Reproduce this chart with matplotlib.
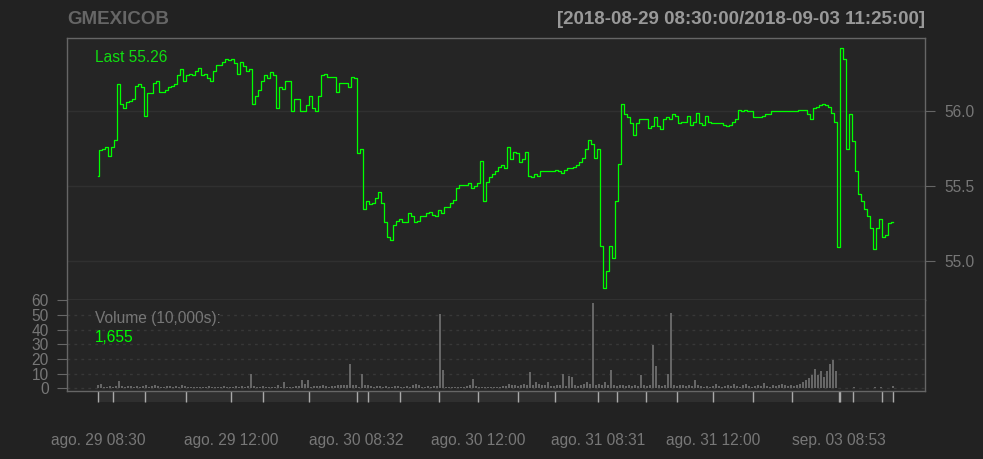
import matplotlib
matplotlib.use("Agg")
import matplotlib.pyplot as plt
from matplotlib.patches import Rectangle
from matplotlib.transforms import blended_transform_factory

plt.rcParams["font.family"] = ["Liberation Sans", "DejaVu Sans"]

symbol = "GMEXICOB"
period = "[2018-08-29 08:30:00/2018-09-03 11:25:00]"

# close prices, one reading per observation step
close = [
    55.57, 55.74, 55.75, 55.76, 55.70, 55.76, 55.81, 56.18, 56.05, 56.02,
    56.06, 56.07, 56.08, 56.17, 56.18, 56.16, 55.97, 56.12, 56.12, 56.19,
    56.20, 56.13, 56.13, 56.14, 56.16, 56.17, 56.18, 56.24, 56.28, 56.20,
    56.24, 56.25, 56.24, 56.27, 56.29, 56.24, 56.25, 56.22, 56.20, 56.27,
    56.31, 56.31, 56.33, 56.35, 56.34, 56.35, 56.32, 56.25, 56.33, 56.30,
    56.27, 56.28, 56.05, 56.10, 56.14, 56.20, 56.24, 56.22, 56.26, 56.24,
    56.02, 56.16, 56.15, 56.20, 56.20, 56.00, 56.08, 56.08, 56.00, 56.00,
    56.04, 56.10, 56.02, 56.00, 56.10, 56.24, 56.25, 56.23, 56.23, 56.23,
    56.13, 56.19, 56.19, 56.19, 56.16, 56.23, 56.22, 55.72, 55.75, 55.35,
    55.40, 55.38, 55.39, 55.42, 55.46, 55.39, 55.26, 55.16, 55.14, 55.24,
    55.27, 55.28, 55.26, 55.26, 55.32, 55.30, 55.26, 55.27, 55.30, 55.30,
    55.32, 55.33, 55.31, 55.30, 55.34, 55.32, 55.36, 55.36, 55.39, 55.41,
    55.49, 55.51, 55.51, 55.51, 55.52, 55.49, 55.50, 55.52, 55.67, 55.40,
    55.53, 55.56, 55.58, 55.60, 55.63, 55.64, 55.62, 55.76, 55.68, 55.73,
    55.72, 55.66, 55.68, 55.73, 55.57, 55.56, 55.58, 55.57, 55.60, 55.60,
    55.60, 55.60, 55.60, 55.61, 55.60, 55.59, 55.61, 55.62, 55.62, 55.63,
    55.64, 55.66, 55.69, 55.75, 55.81, 55.78, 55.69, 55.75, 55.10, 54.82,
    54.93, 55.10, 55.02, 55.40, 55.65, 56.05, 55.98, 55.96, 55.92, 55.84,
    55.92, 55.95, 55.95, 55.95, 55.89, 55.90, 55.96, 55.90, 55.88, 55.95,
    55.96, 55.95, 55.98, 55.97, 55.92, 55.93, 55.93, 55.97, 55.91, 55.93,
    55.99, 55.92, 55.91, 55.97, 55.93, 55.92, 55.92, 55.92, 55.92, 55.91,
    55.90, 55.91, 55.93, 55.95, 56.01, 56.00, 56.01, 56.00, 56.00, 55.96,
    55.96, 55.96, 55.97, 55.98, 55.98, 56.00, 56.00, 56.00, 56.00, 56.00,
    56.00, 56.00, 56.00, 56.00, 56.01, 56.01, 56.01, 55.98, 55.95, 56.02,
    56.03, 56.04, 56.05, 56.04, 56.03, 55.99, 55.93, 55.09, 56.42, 56.35,
    55.75, 55.98, 55.80, 55.60, 55.45, 55.40, 55.35, 55.30, 55.22, 55.08,
    55.22, 55.28, 55.16, 55.17, 55.25, 55.26,
]

# volume in 10,000s
volume = [
    2.5, 3, 1, 1, 1.5, 1, 1.5, 5, 1.5, 1,
    1.5, 1.5, 1, 1.5, 1, 1.5, 2, 1, 1.5, 2.5,
    1.5, 1, 1, 1.5, 1.5, 1, 1.5, 1, 2.5, 1.5,
    1, 1, 1, 1, 1, 1, 1, 1.5, 1, 1,
    1, 1, 1.5, 1, 1, 1, 1.5, 1, 1.5, 1,
    1.5, 10, 1.5, 1, 1, 1.5, 1, 1, 1, 1,
    2.5, 1, 4.5, 1, 1, 1, 1.5, 1.5, 5.5, 3,
    5.5, 1, 1.5, 1.5, 1.5, 2, 1.5, 1, 1.5, 1.5,
    2, 2.5, 2, 2.5, 16.5, 2.5, 2.5, 1, 10, 2.5,
    2, 1.5, 1, 1.5, 1.5, 1, 1.5, 1, 1, 1.5,
    1.5, 1, 1, 1.5, 1, 2, 3, 2.5, 1, 1,
    1.5, 1, 1.5, 1.5, 50.8, 12.8, 1, 1, 1, 1,
    1, 1, 1, 1.5, 2, 6.5, 1.5, 1, 1, 1,
    1, 1, 1, 1, 1, 1.5, 1.5, 3, 2.5, 2,
    1.5, 2, 3, 2, 11, 2.5, 4, 3, 2.5, 2,
    4.5, 1.5, 1.5, 2, 2.5, 10, 1.5, 8.5, 8, 2,
    1.5, 2, 3, 4.5, 3, 58.2, 2, 3, 2, 4.5,
    2.5, 12.4, 2, 1.5, 2, 2, 1.5, 2, 1.5, 2,
    1.5, 9, 2, 1.5, 2, 29.3, 15, 2, 1.5, 2,
    10, 51.4, 2, 1.5, 2, 2, 1.5, 2, 1.5, 6,
    2, 1.5, 1, 1.5, 1, 1.5, 3, 1.5, 1, 1.5,
    2, 1.5, 3, 1.5, 1, 2, 3, 1.5, 1, 1.5,
    2, 1.5, 3.5, 1.5, 1, 2, 1.5, 2.5, 3, 2,
    1.5, 2, 1.5, 2, 3, 4, 5.5, 7, 9, 13,
    9, 12, 8, 11.5, 16.5, 19, 11.5, 0.5, 0.5, 0.5,
    0.5, 0.5, 1, 0.5, 0.5, 0.5, 0.5, 0.5, 0.5, 1,
    0.5, 1, 0.5, 0.5, 0.5, 1.5,
]

price_ticks = [55.0, 55.5, 56.0]
volume_ticks = [0, 10, 20, 30, 40, 50, 60]

major_idx = [0, 44.4, 86.2, 126.8, 166.8, 205.1, 247.0]
major_labels = ["ago. 29 08:30", "ago. 29 12:00", "ago. 30 08:32",
                "ago. 30 12:00", "ago. 31 08:31", "ago. 31 12:00",
                "sep. 03 08:53"]
minor_idx = [5.1, 15.8, 29.3, 55.1, 70.4, 90.1, 100.7, 113.8, 140.1, 152.4,
             173.1, 182.8, 193.1, 218.4, 231.4, 247.3, 251.8, 261.2, 265.0]

last_text = "Last 55.26"
vol_title = "Volume (10,000s):"
vol_last = "1,655"

bg = "#222222"
area = "#252525"
border = "#666666"
grid = "#303030"
txt = "#777777"
green = "#00ff00"

W, H = 983, 459
fig = plt.figure(figsize=(W / 100, H / 100), dpi=100, facecolor=bg)


def box(l, t, r, b):
    return [l / W, 1 - b / H, (r - l) / W, (b - t) / H]


def px(x, y):
    # pixel position (from top-left) to figure fraction
    return x / W, 1 - y / H


ax = fig.add_axes(box(67, 38, 925, 299.7), facecolor=area)
axv = fig.add_axes(box(67, 299.7, 925, 391), facecolor=area, sharex=ax)

n = len(close)
idx = list(range(n))
xmin, xmax = -10.33, 275.67

# price panel
for p in price_ticks:
    ax.axhline(p, color=grid, lw=1.0, zorder=0)
ax.plot(idx, close, color=green, lw=0.9, drawstyle="steps-mid", zorder=3)
ax.set_xlim(xmin, xmax)
ax.set_ylim(54.741, 56.489)
ax.yaxis.tick_right()
ax.set_yticks(price_ticks)
ax.set_yticklabels([f"{p:.1f}" for p in price_ticks])
ax.tick_params(axis="y", colors=border, labelcolor=txt, length=7, width=0.8,
               pad=7, labelsize=11.2)
ax.tick_params(axis="x", which="both", bottom=False, labelbottom=False)
for s in ax.spines.values():
    s.set_color(border)
    s.set_linewidth(1.0)

fig.text(*px(95, 58), last_text, color="#11dd11", fontsize=11.2,
         va="center", ha="left")
fig.text(*px(67, 19), symbol, color="#666666", fontsize=13.5,
         fontweight="bold", ha="left", va="center")
fig.text(*px(925, 19), period, color="#999999", fontsize=13.5,
         fontweight="bold", ha="right", va="center")

# volume panel
for v in volume_ticks[:-1]:
    axv.axhline(v, color="#383838", lw=1.0, ls=(0, (2, 3)), zorder=0)
axv.bar(idx, volume, width=0.85, color="#666666", edgecolor="none", zorder=2)
axv.set_ylim(-1.83, 60.47)
axv.set_yticks(volume_ticks)
axv.set_yticklabels([str(v) for v in volume_ticks])
axv.tick_params(axis="y", colors=border, labelcolor=txt, length=7, width=0.8,
                pad=6, labelsize=11.2)
axv.set_xticks(major_idx)
axv.set_xticklabels(major_labels)
axv.set_xticks(minor_idx, minor=True)
axv.tick_params(axis="x", which="both", colors="#aaaaaa", labelcolor=txt,
                length=8, width=1.0, pad=22, labelsize=11.2, direction="out")
for s in axv.spines.values():
    s.set_color(border)
    s.set_linewidth(1.0)
axv.spines["top"].set_visible(False)

band_tr = blended_transform_factory(axv.transData, axv.transAxes)
axv.add_patch(Rectangle((major_idx[0], -11 / 91.3), minor_idx[-1] - major_idx[0],
                        11 / 91.3, transform=band_tr, facecolor="#2f2f2f",
                        edgecolor="none", clip_on=False, zorder=-1))

fig.text(*px(95, 319), vol_title, color=txt, fontsize=11.2,
         ha="left", va="center")
fig.text(*px(95, 337), vol_last, color=green, fontsize=11.2,
         ha="left", va="center")

fig.savefig("out.png", dpi=100, facecolor=bg)
